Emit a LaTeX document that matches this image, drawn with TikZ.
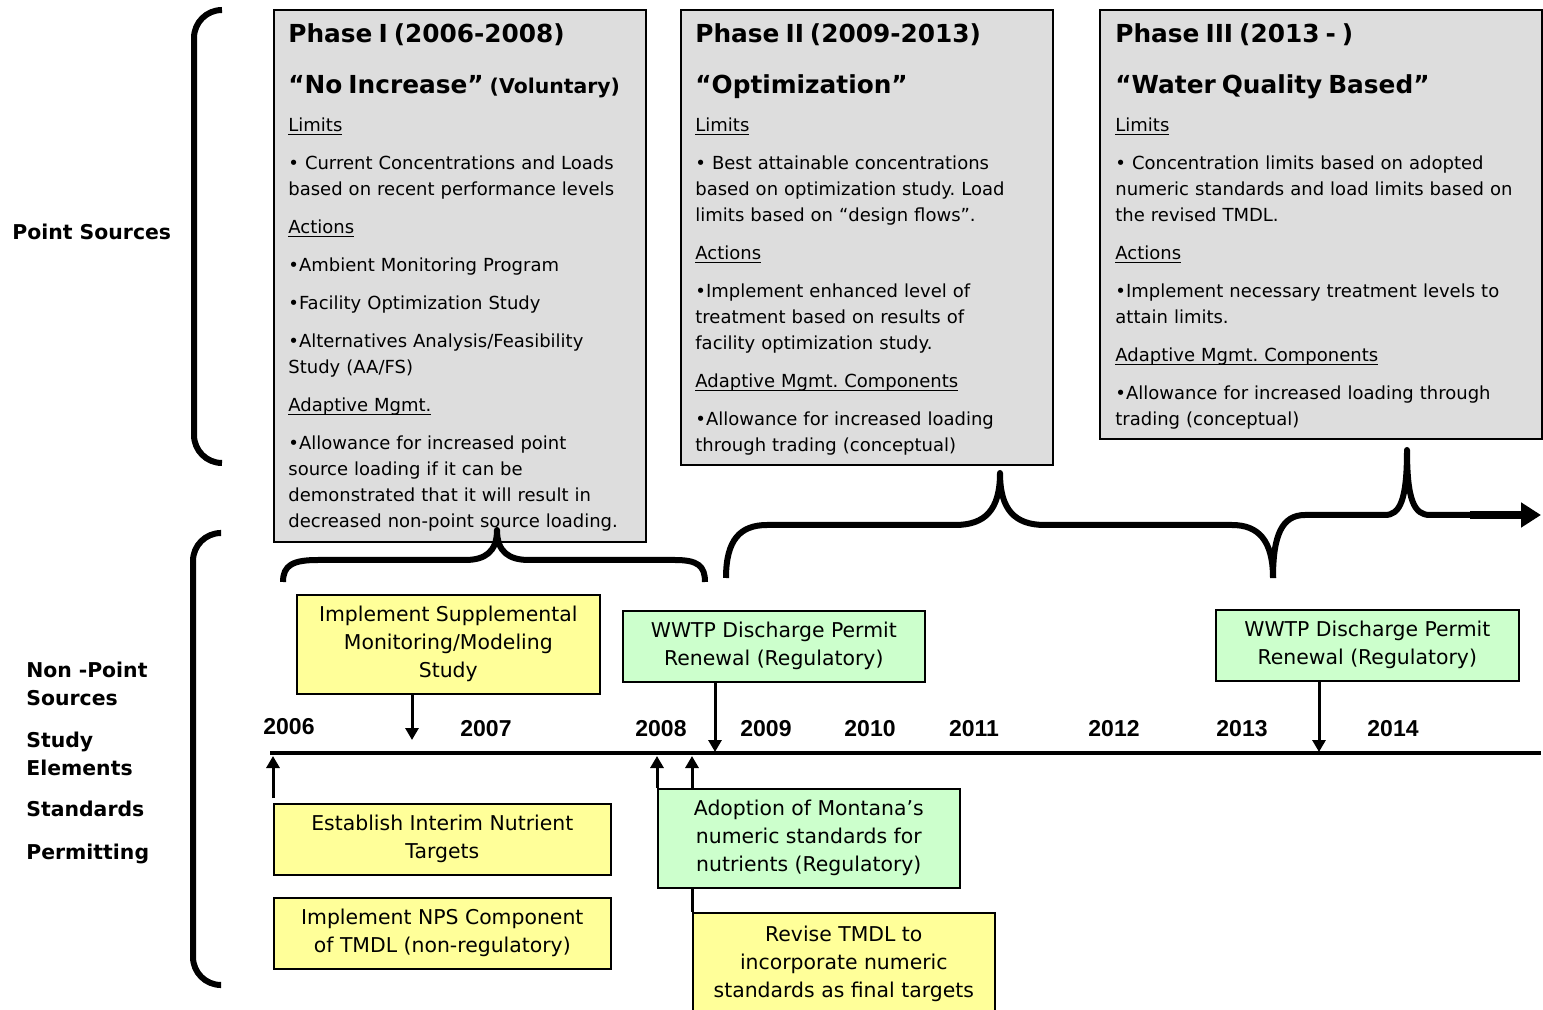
\documentclass[tikz,border=0pt]{standalone}
\usepackage{fontspec}
\setmainfont{DejaVu Sans}
\newfontfamily\yearfont{Liberation Sans}
\usetikzlibrary{arrows.meta}
\frenchspacing

\definecolor{phasegray}{HTML}{DDDDDD}
\definecolor{studyyellow}{HTML}{FFFF99}
\definecolor{regulgreen}{HTML}{CCFFCC}

\newcommand{\phasetitle}{\fontsize{12.4}{13}\selectfont\bfseries}
\newcommand{\subhead}[1]{\underline{\smash{#1}}}

\begin{document}
\begin{tikzpicture}[x=0.5pt, y=-0.5pt,
    phasebox/.style={draw, line width=0.8pt, fill=phasegray, anchor=north west, inner sep=0pt},
    phasetext/.style={anchor=base west, inner sep=0pt, text width=240pt, align=left,
        font=\fontsize{9}{13}\selectfont},
    evbox/.style={draw, line width=0.8pt, anchor=north west, inner sep=0pt, align=center,
        font=\fontsize{10.2}{14}\selectfont},
    studybox/.style={evbox, fill=studyyellow},
    regbox/.style={evbox, fill=regulgreen},
    rowlabel/.style={inner sep=0pt, align=left, font=\fontsize{10.2}{14}\selectfont\bfseries},
    yearlabel/.style={inner sep=0pt, font=\yearfont\fontsize{11.5}{13}\selectfont\bfseries},
    evarrow/.style={line width=1.5pt, -{Triangle[length=6pt, width=6.5pt]}},
    phasebrace/.style={line width=3pt, line join=round},
    sidebrace/.style={line width=3pt, rounded corners=14pt}]

    \useasboundingbox (0,0) rectangle (1543,1010);

    % phases of the point source programme
    \node[phasebox, minimum width=186pt, minimum height=266pt] (ph1) at (273,9) {};
    \node[phasebox, minimum width=186pt, minimum height=227.5pt] (ph2) at (680,9) {};
    \node[phasebox, minimum width=221pt, minimum height=214.5pt] (ph3) at (1099,9) {};

    \node[phasetext] (ph1txt) at (288,43) {%
        {\phasetitle Phase I (2006-2008)}\\[12.5pt]
        {\phasetitle “No Increase” {\fontsize{10.2}{13}\selectfont (Voluntary)}}\\[6pt]
        \subhead{Limits}\\[6pt]
        • Current Concentrations and Loads\\
        based on recent performance levels\\[6pt]
        \subhead{Actions}\\[6pt]
        •Ambient Monitoring Program\\[6pt]
        •Facility Optimization Study\\[6pt]
        •Alternatives Analysis/Feasibility\\
        Study (AA/FS)\\[6pt]
        \subhead{Adaptive Mgmt.}\\[6pt]
        •Allowance for increased point\\
        source loading if it can be\\
        demonstrated that it will result in\\
        decreased non-point source loading.};

    \node[phasetext] (ph2txt) at (695,43) {%
        {\phasetitle Phase II (2009-2013)}\\[12.5pt]
        {\phasetitle “Optimization”}\\[6pt]
        \subhead{Limits}\\[6pt]
        • Best attainable concentrations\\
        based on optimization study. Load\\
        limits based on “design flows”.\\[6pt]
        \subhead{Actions}\\[6pt]
        •Implement enhanced level of\\
        treatment based on results of\\
        facility optimization study.\\[6pt]
        \subhead{Adaptive Mgmt. Components}\\[6pt]
        •Allowance for increased loading\\
        through trading (conceptual)};

    \node[phasetext] (ph3txt) at (1115,43) {%
        {\phasetitle Phase III (2013 - )}\\[12.5pt]
        {\phasetitle “Water Quality Based”}\\[6pt]
        \subhead{Limits}\\[6pt]
        • Concentration limits based on adopted\\
        numeric standards and load limits based on\\
        the revised TMDL.\\[6pt]
        \subhead{Actions}\\[6pt]
        •Implement necessary treatment levels to\\
        attain limits.\\[6pt]
        \subhead{Adaptive Mgmt. Components}\\[6pt]
        •Allowance for increased loading through\\
        trading (conceptual)};

    % row labels and side braces
    \node[rowlabel, anchor=west] (pslabel) at (12,232) {Point Sources};
    \node[rowlabel, anchor=base west, text width=90pt] (npslabel) at (26,677)
        {Non -Point\\Sources\\[7pt]Study\\Elements\\[7pt]Standards\\[7pt]Permitting};

    \draw[sidebrace] (222,10) -- (194,10) -- (194,463) -- (222,463);
    \draw[sidebrace] (220,533) -- (193,533) -- (193,985) -- (220,985);

    % timeline
    \coordinate (tlstart) at (270,753);
    \coordinate (tlend) at (1541,753);
    \draw[line width=2.2pt] (tlstart) -- (tlend);

    \foreach \yr/\xx/\yy in {2006/289/727, 2007/486/729, 2008/661/729, 2009/766/729,
            2010/870/729, 2011/974/729, 2012/1114/729, 2013/1242/729, 2014/1393/729}
        \node[yearlabel] (y\yr) at (\xx,\yy) {\yr};

    % events
    \node[studybox, minimum width=151.5pt, minimum height=49.5pt] (suppl) at (296,594)
        {Implement Supplemental\\Monitoring/Modeling\\Study};
    \node[regbox, minimum width=151pt, minimum height=35.5pt] (permit1) at (622,610)
        {WWTP Discharge Permit\\Renewal (Regulatory)};
    \node[regbox, minimum width=151.5pt, minimum height=35.5pt] (permit2) at (1215,609)
        {WWTP Discharge Permit\\Renewal (Regulatory)};
    \node[studybox, minimum width=168.5pt, minimum height=35.5pt] (interim) at (273,803)
        {Establish Interim Nutrient\\Targets};
    \node[studybox, minimum width=168.5pt, minimum height=35.5pt] (npscomp) at (273,897)
        {Implement NPS Component\\of TMDL (non-regulatory)};
    \node[regbox, minimum width=151pt, minimum height=49.5pt] (adopt) at (657,788)
        {Adoption of Montana’s\\numeric standards for\\nutrients (Regulatory)};
    \node[studybox, minimum width=151pt, minimum height=51pt] (revise) at (692,912)
        {Revise TMDL to\\incorporate numeric\\standards as final targets};

    \coordinate (tsuppl) at (412,740);
    \coordinate (tpermit1) at (715,752);
    \coordinate (tpermit2) at (1319,752);
    \coordinate (tinterim) at (273,756);
    \coordinate (tadoptA) at (657,756);
    \coordinate (tadoptB) at (692,756);

    \draw[evarrow] (suppl.south -| tsuppl) -- (tsuppl);
    \draw[evarrow] (permit1.south -| tpermit1) -- (tpermit1);
    \draw[evarrow] (permit2.south -| tpermit2) -- (tpermit2);
    \draw[evarrow] ([yshift=2.5pt]interim.north west) -- (tinterim);
    \draw[evarrow] (adopt.north west) -- (tadoptA);
    \draw[evarrow] (adopt.north -| tadoptB) -- (tadoptB);
    \draw[line width=1.5pt] (adopt.south -| revise.north west) -- (revise.north west);

    % braces tying the phases to the timeline
    \draw[phasebrace] (283,582) .. controls (283,565) and (293,560) .. (318,560) -- (465,560)
        .. controls (485,560) and (497,552) .. (497,530)
        .. controls (497,552) and (509,560) .. (529,560) -- (675,560)
        .. controls (698,560) and (705,566) .. (705,582);
    \draw[phasebrace] (726,578) .. controls (726,540) and (740,525) .. (767,525) -- (955,525)
        .. controls (985,525) and (1000,510) .. (1000,473)
        .. controls (1000,510) and (1015,525) .. (1045,525) -- (1232,525)
        .. controls (1258,525) and (1273,540) .. (1273,578);
    \draw[phasebrace] (1273,578) .. controls (1273,535) and (1282,515) .. (1305,515) -- (1385,515)
        .. controls (1400,515) and (1407,500) .. (1407,450)
        .. controls (1407,500) and (1414,515) .. (1430,515) -- (1475,515);
    \draw[line width=4pt, -{Triangle[length=10pt, width=12pt]}] (1470,515) -- (1541,515);
\end{tikzpicture}
\end{document}
